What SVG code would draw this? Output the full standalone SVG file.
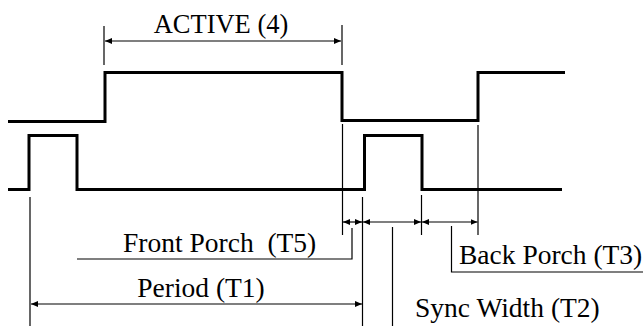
<svg xmlns="http://www.w3.org/2000/svg" width="643" height="326" viewBox="0 0 643 326">
<defs>
<marker id="ah" markerWidth="8" markerHeight="6" refX="7" refY="3" orient="auto-start-reverse" markerUnits="userSpaceOnUse">
<path d="M0,0 L7,3 L0,6 Z" fill="#000"/>
</marker>
<style>
.sig{fill:none;stroke:#000;stroke-width:3;stroke-linejoin:miter;stroke-linecap:butt}
.dim{fill:none;stroke:#000;stroke-width:1.2}
.arr{fill:none;stroke:#000;stroke-width:1.2;marker-start:url(#ah);marker-end:url(#ah)}
.lbl{font-family:"Liberation Serif","Times New Roman",serif;font-size:27.5px;fill:#000}
</style>
</defs>
<rect width="643" height="326" fill="#fff"/>
<g id="active-signal">
<path class="sig" d="M8,121.5 H105 V72.5 H342 V120.5 H478 V72.5 H565"/>
</g>
<g id="sync-signal">
<path class="sig" d="M8,189.5 H29 V135.5 H77 V189.5 H364.5 V135.5 H422 V189.5 H562"/>
</g>
<g id="connectors">
<line class="dim" x1="104" y1="26" x2="104" y2="65"/>
<line class="dim" x1="342" y1="25" x2="342" y2="65"/>
<line class="arr" x1="105" y1="41" x2="341" y2="41"/>
<line class="dim" x1="342.5" y1="124" x2="342.5" y2="235"/>
<line class="dim" x1="362.5" y1="197" x2="362.5" y2="326"/>
<line class="dim" x1="421.5" y1="195" x2="421.5" y2="235"/>
<line class="dim" x1="478" y1="125" x2="478" y2="235"/>
<line class="dim" x1="30" y1="197" x2="30" y2="326"/>
<line class="arr" x1="343" y1="222" x2="362" y2="222"/>
<line class="arr" x1="363" y1="222" x2="421" y2="222"/>
<line class="arr" x1="422" y1="222" x2="477.5" y2="222"/>
<line class="arr" x1="31" y1="304" x2="362" y2="304"/>
<path class="dim" d="M352,228 V259 H77"/>
<line class="dim" x1="392.5" y1="227" x2="392.5" y2="326"/>
<path class="dim" d="M451.5,226 V272 H643"/>
</g>
<g id="labels">
<text class="lbl" x="221" y="33" text-anchor="middle" style="font-size:26.5px">ACTIVE (4)</text>
<text class="lbl" x="123" y="252" xml:space="preserve">Front Porch  (T5)</text>
<text class="lbl" x="201" y="297" text-anchor="middle">Period (T1)</text>
<text class="lbl" x="459" y="264">Back Porch (T3)</text>
<text class="lbl" x="415" y="317">Sync Width (T2)</text>
</g>
</svg>
